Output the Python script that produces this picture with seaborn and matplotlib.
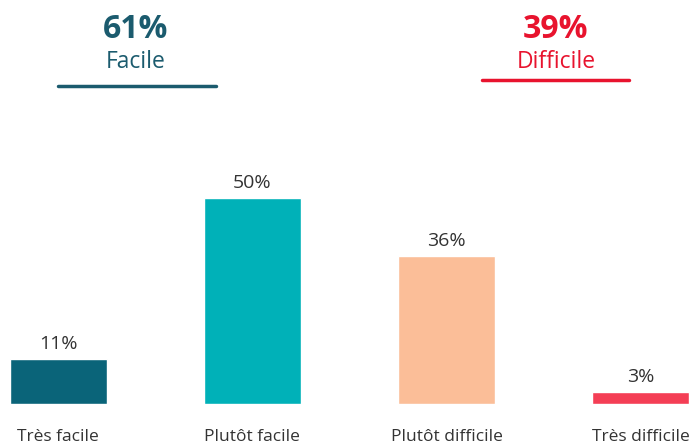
import matplotlib
matplotlib.use("Agg")
import matplotlib.pyplot as plt
import pandas as pd
import seaborn as sns
from matplotlib.lines import Line2D

# data
categories = ["Très facile", "Plutôt facile", "Plutôt difficile", "Très difficile"]
values = [11, 50, 36, 3]
colors = ["#0a6479", "#00b1b8", "#fbbe98", "#f43e55"]
summary_values = ["61%", "39%"]
summary_labels = ["Facile", "Difficile"]
summary_colors = ["#1b5b6e", "#e8132e"]

df = pd.DataFrame({"cat": categories, "val": values})

sns.set_style("white")
plt.rcParams["font.family"] = ["Open Sans", "DejaVu Sans"]

fig = plt.figure(figsize=(6.97, 4.47), dpi=100)
# axes: left edge at x=0, baseline at y=404px, top at y=100px
ax = fig.add_axes([0, 43 / 447, 1, 304 / 447])

sns.barplot(data=df, x="cat", y="val", hue="cat", palette=colors,
            width=0.5, legend=False, ax=ax, saturation=1)

ax.set_xlim(-0.3, 3.29)
ax.set_ylim(0, 73.8)
for i, v in enumerate(values):
    ax.text(i, v + 1.4, f"{v}%", ha="center", va="bottom", fontsize=14, color="#333333")

ax.set_xlabel("")
ax.set_ylabel("")
ax.set_yticks([])
ax.tick_params(axis="x", length=0, pad=18, labelsize=12.5, labelcolor="#333333")
sns.despine(ax=ax, left=True, bottom=True)

# summary headers
xs = [136 / 697, 556 / 697]
lines = [(58, 216, 86), (482, 629, 80)]
for x, big, lab, col, (x0, x1, y) in zip(xs, summary_values, summary_labels, summary_colors, lines):
    fig.text(x, 1 - 30 / 447, big, ha="center", va="center", fontsize=23, fontweight="bold", color=col)
    fig.text(x, 1 - 62 / 447, lab, ha="center", va="center", fontsize=16.5, color=col)
    fig.add_artist(Line2D([x0 / 697, x1 / 697], [1 - y / 447, 1 - y / 447],
                          color=col, linewidth=2.5, transform=fig.transFigure))

fig.savefig("out.png", dpi=100)
